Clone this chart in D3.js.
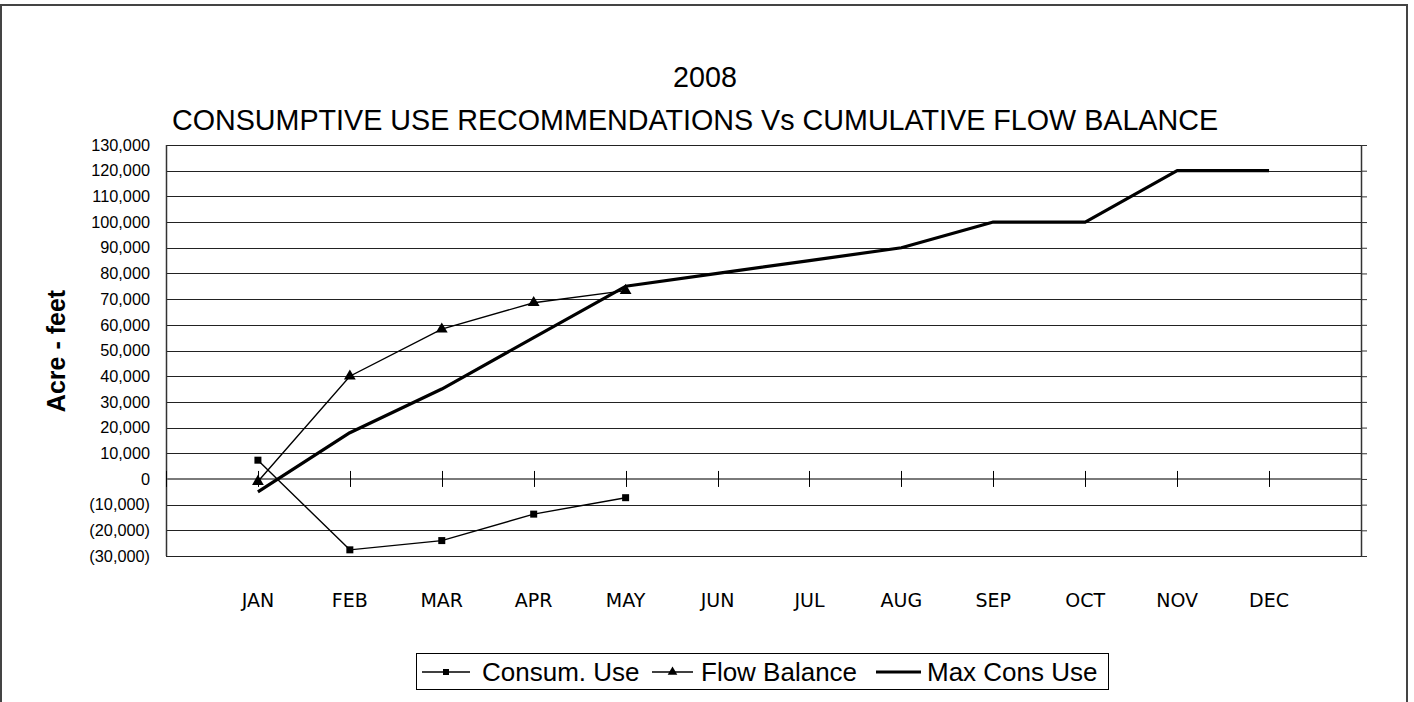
<!DOCTYPE html>
<html><head><meta charset="utf-8">
<script src="https://cdn.jsdelivr.net/npm/d3@7"></script>
<style>body{margin:0;background:#fff}svg{display:block}</style>
</head><body>
<script>
const months = ["JAN","FEB","MAR","APR","MAY","JUN","JUL","AUG","SEP","OCT","NOV","DEC"];
const consumUse = [7300, -27600, -24000, -13700, -7300, null, null, null, null, null, null, null];
const flowBalance = [-1000, 40000, 58300, 68600, 73300, null, null, null, null, null, null, null];
const maxConsUse = [-5000, 18000, 35000, 55000, 75000, 80000, 85000, 90000, 100000, 100000, 120000, 120000];
const yTicks = [-30000,-20000,-10000,0,10000,20000,30000,40000,50000,60000,70000,80000,90000,100000,110000,120000,130000];
const titleLines = ["2008", "CONSUMPTIVE USE RECOMMENDATIONS Vs CUMULATIVE FLOW BALANCE"];
const yTitle = "Acre - feet";
const legendNames = ["Consum. Use", "Flow Balance", "Max Cons Use"];

const W = 1414, H = 702;
const L = 166, R = 1361, T = 145, B = 556;
const FONT = "Liberation Sans, Arial, sans-serif";
const svg = d3.select("body").append("svg").attr("width", W).attr("height", H);

svg.append("rect").attr("x",1).attr("y",5).attr("width",1406).attr("height",H).attr("fill","none").attr("stroke","#444").attr("stroke-width",2);

const x = d3.scalePoint().domain(months).range([L, R]).padding(1);
const y = d3.scaleLinear().domain([-30000, 130000]).range([B, T]);

// title
svg.append("g").selectAll("text").data(titleLines).join("text")
  .attr("x", (d,i)=> i===0 ? 705 : 695).attr("y", (d,i)=> 87 + i*43)
  .attr("text-anchor","middle").attr("font-family",FONT)
  .attr("font-size", 28.7).attr("fill","#000").text(d=>d);

// gridlines
svg.append("g").selectAll("line").data(yTicks.filter(d=>d!==0)).join("line")
  .attr("x1", L).attr("x2", R).attr("y1", d=>Math.round(y(d))+0.5).attr("y2", d=>Math.round(y(d))+0.5)
  .attr("stroke","#222").attr("stroke-width",1);

// plot border left/right
svg.append("line").attr("x1",L+0.5).attr("x2",L+0.5).attr("y1",T).attr("y2",B).attr("stroke","#333").attr("stroke-width",1.5);
svg.append("line").attr("x1",R+0.5).attr("x2",R+0.5).attr("y1",T).attr("y2",B).attr("stroke","#333").attr("stroke-width",1.5);

// left axis labels
const yAxis = d3.axisLeft(y).tickValues(yTicks).tickSize(0).tickPadding(16)
  .tickFormat(d => d < 0 ? "(" + d3.format(",")(-d) + ")" : d3.format(",")(d));
const ya = svg.append("g").attr("transform", `translate(${L},0)`).call(yAxis);
ya.select(".domain").remove();
ya.selectAll("text").attr("font-family",FONT).attr("font-size",16.3).attr("fill","#000");

// right axis ticks
const yAxisR = d3.axisRight(y).tickValues(yTicks).tickSize(6).tickFormat("");
const yr = svg.append("g").attr("transform", `translate(${R},0)`).call(yAxisR);
yr.select(".domain").remove();
yr.selectAll("line").attr("stroke","#333");

// zero axis line
svg.append("line").attr("x1",L).attr("x2",R).attr("y1",y(0)).attr("y2",y(0)).attr("stroke","#7a7a7a").attr("stroke-width",2);
// x ticks crossing
svg.append("g").selectAll("line").data([null, ...months]).join("line")
  .attr("x1", d=> d===null ? L+0.5 : Math.round(x(d))+0.5).attr("x2", d=> d===null ? L+0.5 : Math.round(x(d))+0.5)
  .attr("y1", y(0)-8).attr("y2", y(0)+8).attr("stroke","#000").attr("stroke-width",1);

// month labels
svg.append("g").selectAll("text").data(months).join("text")
  .attr("x", d=>x(d)).attr("y", 607).attr("text-anchor","middle")
  .attr("font-family","Comic Sans MS, DejaVu Sans, sans-serif").attr("font-size",19).attr("fill","#000").text(d=>d);

// y title
svg.append("text").attr("transform","translate(65,351) rotate(-90)").attr("text-anchor","middle")
  .attr("font-family",FONT).attr("font-size",25).attr("font-weight","bold").text(yTitle);

// series
const line = d3.line().defined(d=>d.v!==null).x(d=>x(d.m)).y(d=>y(d.v));
const toPts = arr => months.map((m,i)=>({m, v: arr[i]}));

svg.append("path").datum(toPts(maxConsUse)).attr("d", line).attr("fill","none").attr("stroke","#000").attr("stroke-width",3.2).attr("stroke-linejoin","round");
svg.append("path").datum(toPts(flowBalance)).attr("d", line).attr("fill","none").attr("stroke","#000").attr("stroke-width",1.4);
svg.append("path").datum(toPts(consumUse)).attr("d", line).attr("fill","none").attr("stroke","#000").attr("stroke-width",1.4);

const tri = d3.symbol().type(d3.symbolTriangle).size(60);
svg.append("g").selectAll("path").data(toPts(flowBalance).filter(d=>d.v!==null)).join("path")
  .attr("d", tri).attr("transform", d=>`translate(${x(d.m)},${y(d.v)})`).attr("fill","#000");
svg.append("g").selectAll("rect").data(toPts(consumUse).filter(d=>d.v!==null)).join("rect")
  .attr("x", d=>x(d.m)-3.5).attr("y", d=>y(d.v)-3.5).attr("width",7).attr("height",7).attr("fill","#000");

// legend
const lg = svg.append("g");
lg.append("rect").attr("x",416.5).attr("y",653.5).attr("width",692).attr("height",36).attr("fill","#fff").attr("stroke","#000").attr("stroke-width",1);
const items = [
  {name: legendNames[0], x0: 422, x1: 470, tx: 482, mark: "sq", w: 1.4},
  {name: legendNames[1], x0: 652, x1: 693, tx: 701, mark: "tri", w: 1.4},
  {name: legendNames[2], x0: 876, x1: 921, tx: 927, mark: null, w: 3}
];
items.forEach(it => {
  const cy = 672;
  lg.append("line").attr("x1", it.x0).attr("x2", it.x1).attr("y1",cy).attr("y2",cy).attr("stroke","#000").attr("stroke-width",it.w);
  const cx = (it.x0 + it.x1)/2;
  if (it.mark === "sq") lg.append("rect").attr("x",cx-3).attr("y",cy-3).attr("width",6).attr("height",6).attr("fill","#000");
  if (it.mark === "tri") lg.append("path").attr("d", d3.symbol().type(d3.symbolTriangle).size(40)).attr("transform",`translate(${cx},${cy})`).attr("fill","#000");
  lg.append("text").attr("x", it.tx).attr("y", cy+9).attr("font-family",FONT).attr("font-size",26).attr("fill","#000").text(it.name);
});
</script>
</body></html>
